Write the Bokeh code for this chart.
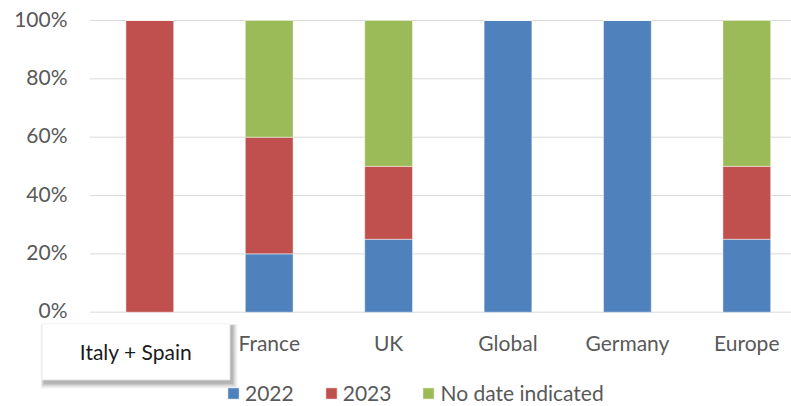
from bokeh.plotting import figure
from bokeh.models import ColumnDataSource, Range1d
from bokeh.core.properties import value
from bokeh.embed import file_html
from bokeh.resources import INLINE

# ---- data ----
categories = ["Italy + Spain", "France", "UK", "Global", "Germany", "Europe"]
series_names = ["2022", "2023", "No date indicated"]
v2022 = [0, 20, 25, 100, 100, 25]
v2023 = [100, 40, 25, 0, 0, 25]
vnodate = [0, 40, 50, 0, 0, 50]
y_ticks = [0, 20, 40, 60, 80, 100]
y_tick_labels = ["0%", "20%", "40%", "60%", "80%", "100%"]
colors = ["#4F81BD", "#C0504D", "#9BBB59"]

# ---- layout (pixel geometry -> data units) ----
W, H = 791, 406
PX_X = 119.4          # pixels per category
PX_Y = 2.917          # pixels per percent
X0_PAGE = 149.3       # page x of first category centre
Y0_PAGE = 311.7       # page y of 0%
MARGIN = 0

def dx(page_x):
    return (page_x - X0_PAGE) / PX_X

def dy(page_y):
    return -(page_y - Y0_PAGE) / PX_Y

x_start = dx(MARGIN)
x_end = dx(MARGIN + W)
y_top = dy(MARGIN)
y_bot = dy(MARGIN + H)

FONT = value("Lato")
GREY = "#595959"
FS = "21px"

p = figure(width=W, height=H, output_backend="svg", toolbar_location=None,
           x_range=Range1d(x_start, x_end), y_range=Range1d(y_bot, y_top),
           min_border=0, min_border_left=0, min_border_right=0,
           min_border_top=0, min_border_bottom=0)
p.axis.visible = False
p.grid.visible = False
p.outline_line_color = None
p.background_fill_color = "white"
p.border_fill_color = "white"

# gridlines
p.segment(x0=[-0.5] * len(y_ticks), x1=[x_end + 1] * len(y_ticks),
          y0=y_ticks, y1=y_ticks, line_color="#d9d9d9", line_width=1)

# y tick labels
p.text(x=[dx(67)] * len(y_ticks), y=[t + 2.4 / PX_Y for t in y_ticks],
       text=y_tick_labels, text_font=FONT, text_font_size=FS,
       text_color=GREY, text_align="right", text_baseline="middle")

# stacked bars
src = ColumnDataSource(dict(x=list(range(len(categories))),
                            s2022=v2022, s2023=v2023, snd=vnodate))
p.vbar_stack(["s2022", "s2023", "snd"], x="x", width=0.40, source=src,
             fill_color=colors, line_color="white", line_alpha=0.45,
             line_width=1, legend_label=series_names)

# category labels (first one sits in the highlighted box)
idx = list(range(1, len(categories)))
p.text(x=idx, y=[dy(342.2)] * len(idx), text=categories[1:],
       text_font=FONT, text_font_size=FS, text_color=GREY,
       text_align="center", text_baseline="middle")

# highlighted box with soft shadow
bl, br, bt, bb = dx(41.7), dx(229.3), dy(323.3), dy(379.3)
ux, uy = 1 / PX_X, 1 / PX_Y
for k, a in [(6, 0.03), (5, 0.04), (4, 0.05), (3, 0.06), (2, 0.07), (1, 0.08)]:
    p.quad(left=[bl + (2 - k * 0.6) * ux], right=[br + (2 + k) * ux],
           top=[bt - (2 - k * 0.3) * uy], bottom=[bb - (3 + k) * uy],
           fill_color="black", fill_alpha=a, line_color=None)
p.quad(left=[bl], right=[br], top=[bt], bottom=[bb],
       fill_color="white", line_color="#f2f2f2", line_width=1)
p.text(x=[(bl + br) / 2], y=[dy(350.5)], text=[categories[0]],
       text_font=FONT, text_font_size=FS, text_color="#1a1a1a",
       text_align="center", text_baseline="middle")

# legend
lg = p.legend[0]
lg.orientation = "horizontal"
lg.location = (226, 1)
lg.border_line_color = None
lg.background_fill_alpha = 0
lg.padding = 0
lg.margin = 0
lg.spacing = 30
lg.label_standoff = 5
lg.glyph_width = 14
lg.glyph_height = 14
lg.label_height = 20
lg.label_text_font = "Lato"
lg.label_text_font_size = FS
lg.label_text_color = GREY

open("out.html", "w").write(file_html(p, INLINE))
